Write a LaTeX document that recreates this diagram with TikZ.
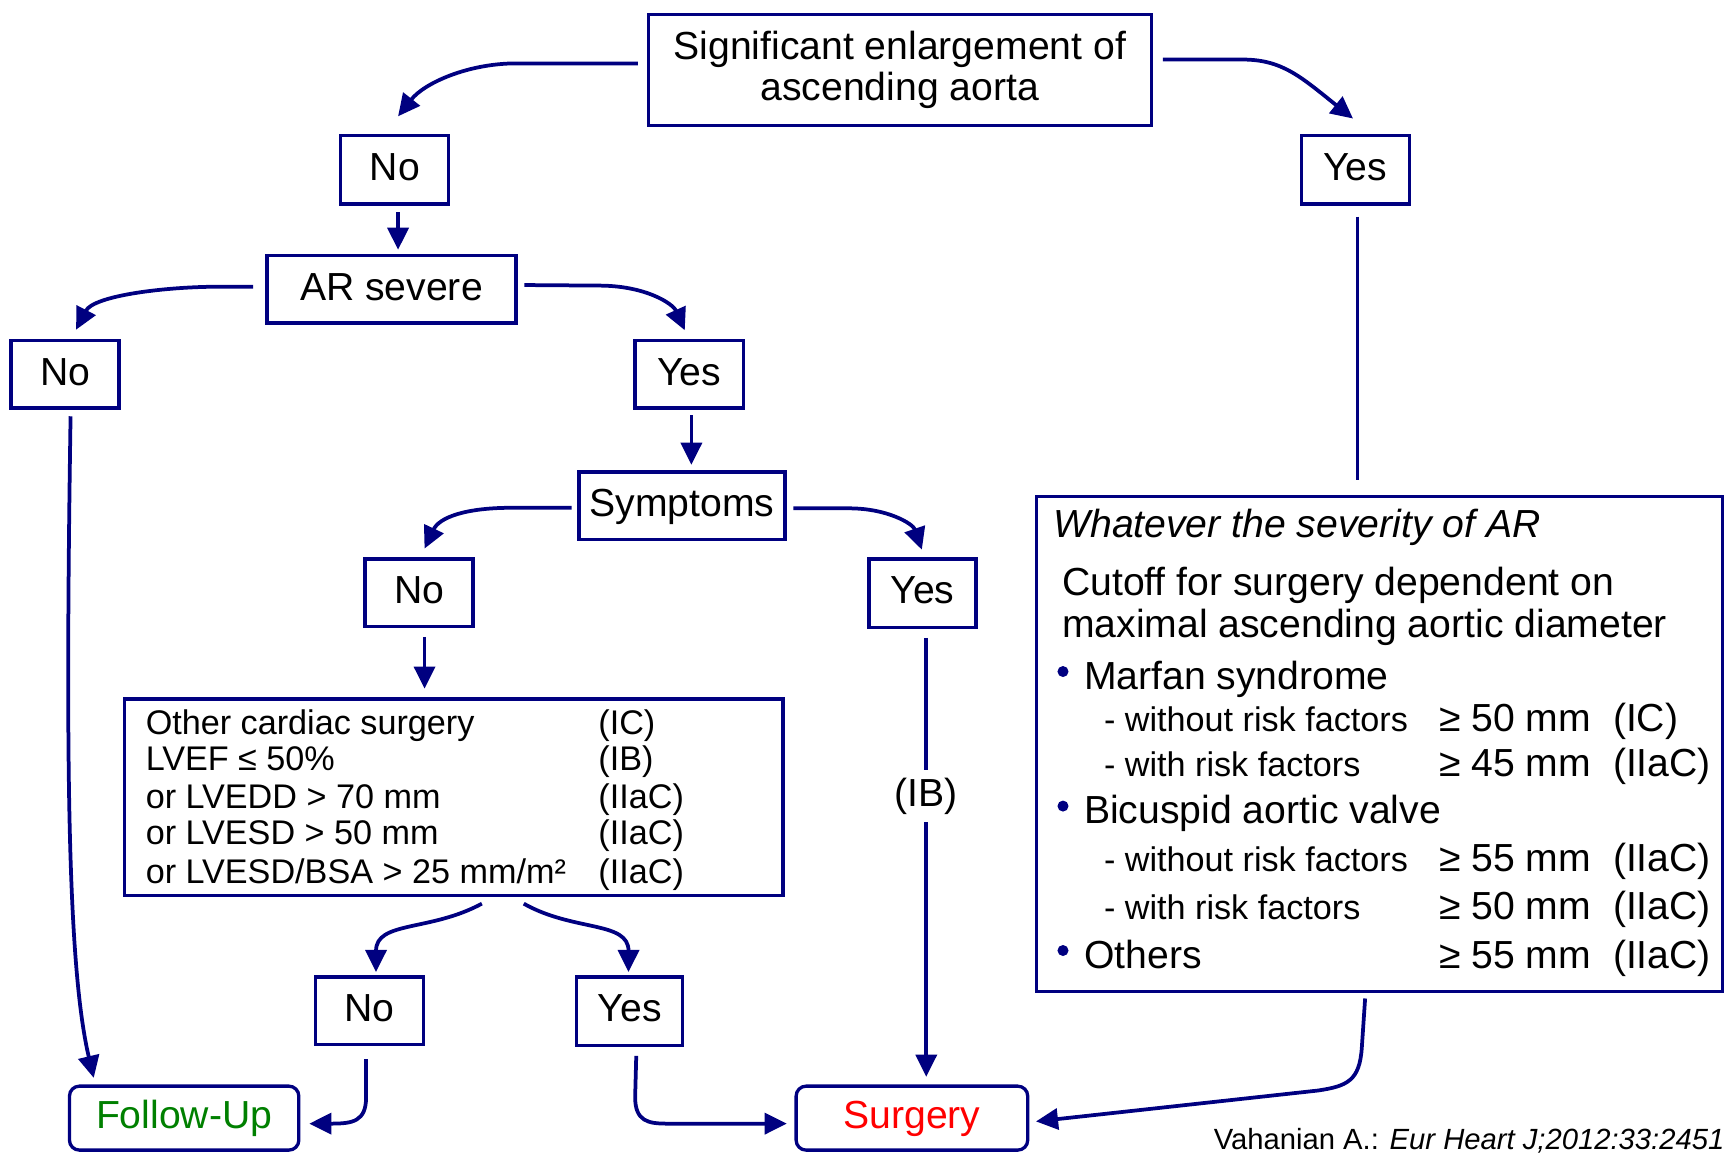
\documentclass[tikz,border=0pt]{standalone}
\usepackage{fontspec}
\setmainfont{Liberation Sans}
\usetikzlibrary{arrows.meta,calc}
\definecolor{navy}{RGB}{0,0,128}
\definecolor{fugreen}{RGB}{0,128,0}
\definecolor{surgred}{RGB}{255,0,0}
\newcommand\fbig{\fontsize{35.5}{37}\selectfont}
\newcommand\fmid{\fontsize{31}{34}\selectfont}
\newcommand\fcite{\fontsize{26.5}{30}\selectfont}

\begin{document}
\begin{tikzpicture}[x=1pt,y=-1pt,
  box/.style={draw=navy, line width=3pt, fill=white, inner sep=0pt, font=\fbig},
  lbl/.style={box, text height=25.5pt, text depth=6pt},
  endbox/.style={lbl, rounded corners=9pt},
  arr/.style={draw=navy, line width=3.4pt, -{Triangle[length=20pt,width=19pt]}},
  link/.style={draw=navy, line width=3.4pt},
  txt/.style={inner sep=0pt, anchor=base west},
  big/.style={txt, font=\fbig},
  mid/.style={txt, font=\fmid},
]
\useasboundingbox (0,0) rectangle (1568,1046);

% decision boxes
\node[box, align=center, minimum width=456pt, minimum height=101pt] (top) at (816,63.5)
  {Significant enlargement of\\ascending aorta};
\node[lbl, minimum width=98pt, minimum height=62pt] (no1) at (358,154) {No};
\node[lbl, minimum width=98pt, minimum height=62pt] (yes1) at (1229,154) {Yes};
\node[lbl, minimum width=226pt, minimum height=61pt] (ar) at (355,262.5) {AR severe};
\node[lbl, minimum width=98pt, minimum height=61pt] (no2) at (59,339.5) {No};
\node[lbl, minimum width=98pt, minimum height=61pt] (yes2) at (625,339.5) {Yes};
\node[lbl, minimum width=187pt, minimum height=61pt] (sym) at (618.5,458.5) {Symptoms};
\node[lbl, minimum width=98pt, minimum height=61pt] (no3) at (380,537.5) {No};
\node[lbl, minimum width=97pt, minimum height=62pt] (yes3) at (836.5,538) {Yes};
\node[lbl, minimum width=98pt, minimum height=61pt] (no4) at (335,916.5) {No};
\node[lbl, minimum width=96pt, minimum height=62pt] (yes4) at (571,917) {Yes};

% outcomes
\node[endbox, minimum width=208pt, minimum height=58pt, text=fugreen] (fu) at (167,1014) {Follow-Up};
\node[endbox, minimum width=210pt, minimum height=58pt, text=surgred] (surg) at (827,1014) {Surgery};

% criteria box
\node[box, minimum width=597pt, minimum height=178pt] (crit) at (411.5,723) {};
\node[mid] (c1a) at (132,666) {Other cardiac surgery};
\node[mid] (c1b) at (542.5,666) {(IC)};
\node[mid] (c2a) at (132,699) {LVEF ≤ 50\%};
\node[mid] (c2b) at (542.5,699) {(IB)};
\node[mid] (c3a) at (132,733) {or LVEDD > 70 mm};
\node[mid] (c3b) at (542.5,733) {(IIaC)};
\node[mid] (c4a) at (132,766) {or LVESD > 50 mm};
\node[mid] (c4b) at (542.5,766) {(IIaC)};
\node[mid] (c5a) at (132,801) {or LVESD/BSA > 25 mm/m²};
\node[mid] (c5b) at (542.5,801) {(IIaC)};

% aortic diameter box
\node[box, minimum width=622pt, minimum height=449pt] (wh) at (1251,674.5) {};
\node[big, font=\fbig\itshape] (w0) at (955,487) {Whatever the severity of AR};
\node[big] (w1) at (963,540) {Cutoff for surgery dependent on};
\node[big] (w2) at (963,578) {maximal ascending aortic diameter};
\fill[navy] (964,609) circle (5pt);
\node[big] (m0) at (983,625) {Marfan syndrome};
\node[mid] (m1a) at (1001,663) {- without risk factors};
\node[big] (m1b) at (1305,663) {≥ 50 mm};
\node[big] (m1c) at (1462.6,663) {(IC)};
\node[mid] (m2a) at (1001,704) {- with risk factors};
\node[big] (m2b) at (1305,704) {≥ 45 mm};
\node[big] (m2c) at (1462.6,704) {(IIaC)};
\fill[navy] (964,731) circle (5pt);
\node[big] (b0) at (983,746.6) {Bicuspid aortic valve};
\node[mid] (b1a) at (1001,790) {- without risk factors};
\node[big] (b1b) at (1305,790) {≥ 55 mm};
\node[big] (b1c) at (1462.6,790) {(IIaC)};
\node[mid] (b2a) at (1001,834) {- with risk factors};
\node[big] (b2b) at (1305,834) {≥ 50 mm};
\node[big] (b2c) at (1462.6,834) {(IIaC)};
\fill[navy] (964,862) circle (5pt);
\node[big] (o0) at (983,878) {Others};
\node[big] (o1b) at (1305,878) {≥ 55 mm};
\node[big] (o1c) at (1462.6,878) {(IIaC)};

% class label on the symptomatic branch
\node[inner sep=0pt, font=\fbig, minimum height=47pt] (ib) at (840,722) {(IB)};

% reference
\node[txt, anchor=base east, font=\fcite] (cite) at (1564,1042)
  {Vahanian A.: \textit{Eur Heart J;2012:33:2451}};

% connectors
\draw[arr] ($(top.west)+(-8,-6)$) -- (468,57.5)
  .. controls (425,57.5) and (385,75) .. ($(no1.north)+(3,-16)$);
\draw[arr] ($(top.east)+(9,-9.5)$) -- (1127,54)
  .. controls (1163,54) and (1180,70) .. ($(yes1.north)+(-2,-14)$);
\draw[arr] ($(no1.south)+(3,6)$) -- ($(ar.north)+(6,-4)$);
\draw[arr] ($(ar.west)+(-11,-2.5)$) -- (199,260)
  .. controls (150,260) and (85,268) .. ($(no2.north)+(10,-8.5)$);
\draw[arr] ($(ar.east)+(6,-4)$) -- (543,259)
  .. controls (585,259) and (610,275) .. ($(yes2.north)+(-4,-8)$);
\draw[arr] ($(yes2.south)+(2,5)$) -- ($(sym.north)+(8.5,-5)$);
\draw[arr] ($(sym.west)+(-5,2)$) -- (468,460.5)
  .. controls (420,460) and (398,470) .. ($(no3.north)+(5,-8)$);
\draw[arr] ($(sym.east)+(6,2.5)$) -- (770,461)
  .. controls (805,461) and (828,475) .. ($(yes3.north)+(-0.5,-7)$);
\draw[arr] ($(no3.south)+(5,8)$) -- ($(crit.north)+(-26.5,-8)$);
\draw[arr] ($(crit.south)+(25.5,6)$)
  .. controls (390,845) and (341,835) .. ($(no4.north)+(6,-3)$);
\draw[arr] ($(crit.south)+(63.5,6)$)
  .. controls (520,845) and (570,835) .. ($(yes4.north)+(-1,-3)$);
\draw[arr] ($(no2.south)+(5,6)$)
  .. controls (59,700) and (62,880) .. ($(fu.north west)+(23.5,-6)$);
\draw[arr] ($(no4.south)+(-3,12)$) -- (332,995)
  .. controls (332,1017) and (320,1019) .. (300,1019) -- ($(fu.east)+(8,5)$);
\draw[arr] ($(yes4.south)+(6,8)$) -- (576,995)
  .. controls (576,1017) and (588,1019) .. (605,1019) -- ($(surg.west)+(-7,5)$);
\draw[link] ($(yes3.south)+(3.5,8)$) -- (ib.north);
\draw[arr] (ib.south) -- ($(surg.north)+(13,-7)$);
\draw[link] ($(yes1.south)+(2,10)$) -- ($(wh.north)+(-20,-13)$);
\draw[arr] ($(wh.south)+(-13,5)$) -- (1235,950)
  .. controls (1233,980) and (1222,985) .. (1195,989) -- ($(surg.east)+(6,3)$);
\end{tikzpicture}
\end{document}
